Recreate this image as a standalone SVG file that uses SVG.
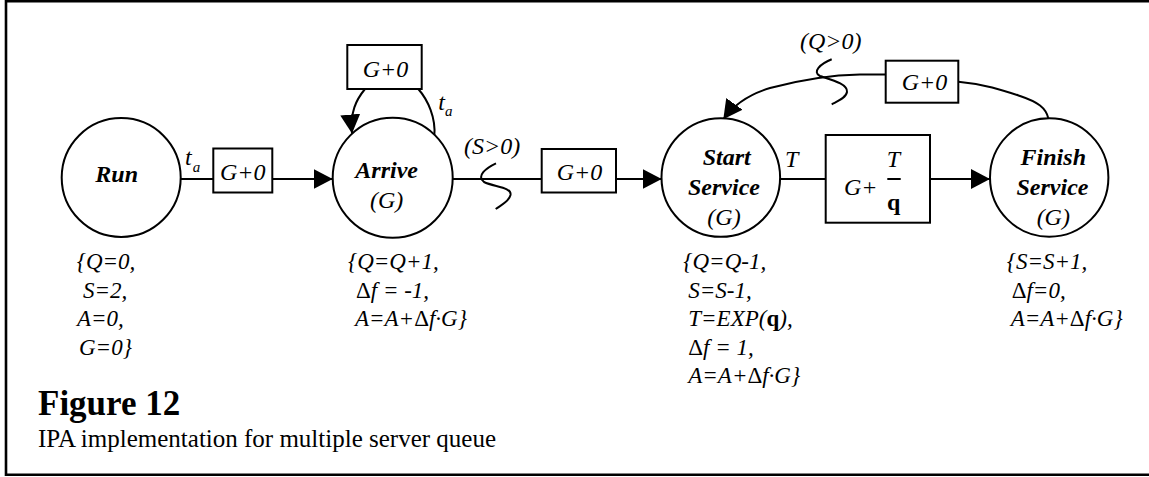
<svg xmlns="http://www.w3.org/2000/svg" width="1149" height="477" viewBox="0 0 1149 477">
<style>
.ln{fill:none;stroke:#000;stroke-width:2}
.nd{fill:#fff;stroke:#000;stroke-width:2}
.bx{fill:#fff;stroke:#000;stroke-width:2}
.nm{font-family:"Liberation Serif",serif;font-size:24px;font-weight:bold;font-style:italic;fill:#000;text-anchor:middle}
.ng{font-family:"Liberation Serif",serif;font-size:24px;font-style:italic;fill:#000;text-anchor:middle}
.lb{font-family:"Liberation Serif",serif;font-size:24px;font-style:italic;fill:#000}
.sub{font-family:"Liberation Serif",serif;font-size:15px;font-style:italic;fill:#000}
.nt{font-family:"Liberation Serif",serif;font-size:23px;font-style:italic;fill:#000}
.up{font-style:normal}
.bd{font-weight:bold}
</style>
<defs>
<marker id="ah" viewBox="0 0 19 20" refX="19" refY="10" markerWidth="19" markerHeight="20" markerUnits="userSpaceOnUse" orient="auto">
<path d="M0,0 L19,10 L0,20 Z" fill="#000"/>
</marker>
</defs>
<rect width="1149" height="477" fill="#fff"/>
<path d="M1149,1.3 H6 V474.7 H1149" fill="none" stroke="#000" stroke-width="2.6"/>

<g id="connectors">
<line class="ln" x1="180.7" y1="179" x2="213.3" y2="179"/>
<line class="ln" x1="272.3" y1="179" x2="332.7" y2="179" marker-end="url(#ah)"/>
<line class="ln" x1="452.7" y1="179" x2="541.7" y2="179"/>
<path class="ln" d="M496,163.3 C486,168 476,176 484,182 C494,187 512,187 510.5,195 C509,202 501,205 495.7,209"/>
<line class="ln" x1="616" y1="179" x2="661.7" y2="179" marker-end="url(#ah)"/>
<line class="ln" x1="780" y1="179" x2="825.7" y2="179"/>
<line class="ln" x1="930" y1="179" x2="990" y2="179" marker-end="url(#ah)"/>
<path class="ln" d="M434.3,136 C436,118 428,100 418.3,89"/>
<path class="ln" d="M365,89 C356,100 350,112 352,133.5" marker-end="url(#ah)"/>
<path class="ln" d="M1048.3,118.3 C1046,108 1038,102 1020,96 C1005,91 985,84 958.3,81.7"/>
<path class="ln" d="M885.7,74.5 L860,74.5 C830,75 800,80 770,88 C750,94 735,103 723.3,119.3" marker-end="url(#ah)"/>
<path class="ln" d="M831.7,59.3 C820,64 812,72 820,76 C832,80 848,84 847,92 C846,98 838,101 831.7,104.3"/>
</g>

<g id="label-ta1">
<text class="lb" x="185" y="165" font-size="23">t</text>
<text class="sub" x="192.7" y="171.7">a</text>
</g>
<g id="label-ta2">
<text class="lb" x="438.3" y="110" font-size="23">t</text>
<text class="sub" x="445" y="115.5">a</text>
</g>
<g id="label-s"><text class="lb" x="464" y="154">(S&gt;0)</text></g>
<g id="label-q"><text class="lb" x="800" y="49">(Q&gt;0)</text></g>
<g id="label-T"><text class="lb" x="785" y="166.7">T</text></g>

<g id="node-run">
<circle class="nd" cx="121.2" cy="177.5" r="59.5"/>
<text class="nm" x="116.7" y="181.7">Run</text>
</g>
<g id="node-arrive">
<circle class="nd" cx="392.7" cy="177.8" r="60"/>
<text class="nm" x="386.7" y="178.3">Arrive</text>
<text class="ng" x="386.7" y="208.3">(G)</text>
</g>
<g id="node-start">
<circle class="nd" cx="720.8" cy="177.5" r="59.3"/>
<text class="nm" x="726.7" y="165">Start</text>
<text class="nm" x="724" y="195">Service</text>
<text class="ng" x="724" y="225">(G)</text>
</g>
<g id="node-finish">
<circle class="nd" cx="1049.2" cy="177.5" r="59.2"/>
<text class="nm" x="1053.3" y="165">Finish</text>
<text class="nm" x="1052.5" y="195">Service</text>
<text class="ng" x="1053.3" y="225">(G)</text>
</g>

<g id="box-1">
<rect class="bx" x="213.3" y="148.5" width="59" height="44"/>
<text class="lb" x="220" y="180">G+0</text>
</g>
<g id="box-loop">
<rect class="bx" x="347.3" y="45" width="74.4" height="44"/>
<text class="lb" x="362.7" y="76.7">G+0</text>
</g>
<g id="box-2">
<rect class="bx" x="541.7" y="149" width="74.3" height="43.5"/>
<text class="lb" x="556.7" y="180">G+0</text>
</g>
<g id="box-3">
<rect class="bx" x="825.7" y="135" width="104.3" height="87.7"/>
<text class="lb" x="844" y="195">G+</text>
<text class="lb" x="886.7" y="166.7">T</text>
<line x1="887.3" y1="179" x2="900.7" y2="179" stroke="#000" stroke-width="2"/>
<text class="lb up bd" x="887" y="210">q</text>
</g>
<g id="box-top">
<rect class="bx" x="885.7" y="60.7" width="72.6" height="42"/>
<text class="lb" x="901.7" y="90">G+0</text>
</g>

<g id="notes-run">
<text class="nt" x="76.7" y="269">{Q=0,</text>
<text class="nt" x="83" y="297.5">S=2,</text>
<text class="nt" x="77" y="326">A=0,</text>
<text class="nt" x="79" y="354.5">G=0}</text>
</g>
<g id="notes-arrive">
<text class="nt" x="348" y="269">{Q=Q+1,</text>
<text class="nt" x="356" y="297.5"><tspan class="up">Δ</tspan>f = -1,</text>
<text class="nt" x="355" y="326">A=A+<tspan class="up">Δ</tspan>f·G}</text>
</g>
<g id="notes-start">
<text class="nt" x="683.3" y="269">{Q=Q-1,</text>
<text class="nt" x="688.3" y="297.5">S=S-1,</text>
<text class="nt" x="688.3" y="326">T=EXP(<tspan class="up bd">q</tspan>),</text>
<text class="nt" x="688.3" y="354.5"><tspan class="up">Δ</tspan>f = 1,</text>
<text class="nt" x="688.3" y="383">A=A+<tspan class="up">Δ</tspan>f·G}</text>
</g>
<g id="notes-finish">
<text class="nt" x="1006.7" y="269">{S=S+1,</text>
<text class="nt" x="1011.7" y="297.5"><tspan class="up">Δ</tspan>f=0,</text>
<text class="nt" x="1010.7" y="326">A=A+<tspan class="up">Δ</tspan>f·G}</text>
</g>

<g id="caption">
<text x="38" y="415" font-family="Liberation Serif, serif" font-size="35" font-weight="bold" fill="#000">Figure 12</text>
<text x="38" y="446.7" font-family="Liberation Serif, serif" font-size="25" fill="#000">IPA implementation for multiple server queue</text>
</g>
</svg>
